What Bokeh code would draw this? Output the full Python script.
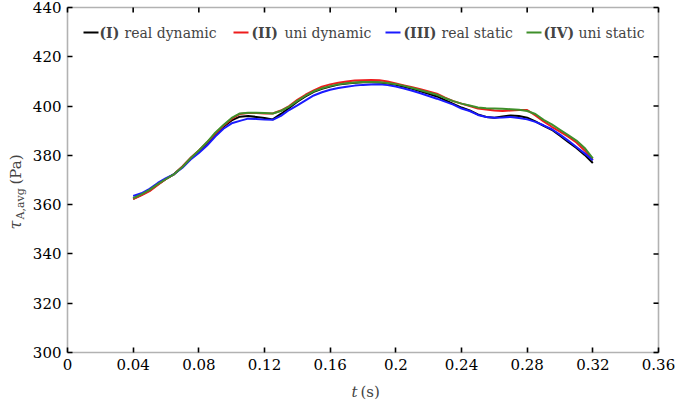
from bokeh.plotting import figure
from bokeh.models import Range1d, FixedTicker, LinearAxis, Label, BoxAnnotation
from bokeh.embed import file_html
from bokeh.resources import INLINE
import math

# time samples (s)
t = [0.040, 0.045, 0.050, 0.055, 0.060, 0.065, 0.070, 0.075, 0.080, 0.085,
     0.090, 0.095, 0.100, 0.105, 0.110, 0.115, 0.120, 0.125, 0.130, 0.135,
     0.140, 0.145, 0.150, 0.155, 0.160, 0.165, 0.170, 0.175, 0.180, 0.185,
     0.190, 0.195, 0.200, 0.205, 0.210, 0.215, 0.220, 0.225, 0.230, 0.235,
     0.240, 0.245, 0.250, 0.255, 0.260, 0.265, 0.270, 0.275, 0.280, 0.285,
     0.290, 0.295, 0.300, 0.305, 0.310, 0.315, 0.320]

# average wall shear stress (Pa) for each case
real_dynamic = [362.4, 364.0, 365.8, 368.2, 370.4, 372.4, 375.4, 378.8, 381.7, 384.8,
                388.4, 391.6, 394.2, 395.7, 396.0, 395.6, 395.2, 394.6, 396.8, 399.2,
                401.8, 403.9, 405.8, 407.0, 407.9, 408.7, 409.2, 409.5, 409.7, 409.7,
                409.6, 409.2, 408.6, 407.8, 407.0, 406.0, 405.0, 403.9, 402.4, 400.9,
                399.4, 398.2, 396.6, 395.6, 395.3, 395.8, 396.2, 396.0, 395.3, 393.8,
                392.0, 390.4, 388.0, 385.4, 383.0, 380.2, 376.9]
uni_dynamic = [362.2, 363.8, 365.5, 368.0, 370.4, 372.4, 375.5, 379.0, 382.0, 385.2,
               388.8, 392.0, 394.8, 396.8, 397.2, 397.2, 397.0, 397.0, 398.2, 400.0,
               402.5, 404.6, 406.4, 407.9, 408.8, 409.5, 410.0, 410.4, 410.5, 410.6,
               410.5, 410.0, 409.2, 408.4, 407.6, 406.8, 405.9, 405.0, 403.4, 402.0,
               401.0, 400.0, 399.0, 398.6, 398.2, 398.0, 398.2, 398.4, 398.4, 396.2,
               393.8, 391.6, 389.6, 387.6, 385.2, 382.0, 378.2]
real_static = [363.5, 364.6, 366.4, 368.8, 370.8, 372.4, 375.0, 378.3, 381.0, 384.0,
               387.6, 390.8, 393.0, 394.0, 394.9, 394.8, 394.5, 394.4, 396.0, 398.4,
               400.3, 402.3, 404.3, 405.6, 406.6, 407.3, 407.8, 408.3, 408.6, 408.8,
               408.9, 408.5, 407.9, 407.1, 406.2, 405.2, 404.1, 403.0, 401.8, 400.6,
               399.0, 398.0, 396.4, 395.6, 395.3, 395.4, 395.6, 395.2, 394.6, 393.6,
               392.2, 390.6, 388.4, 386.0, 383.4, 380.8, 378.0]
uni_static = [362.6, 364.2, 366.0, 368.3, 370.4, 372.4, 375.3, 378.8, 382.0, 385.4,
              389.2, 392.3, 395.2, 397.0, 397.3, 397.3, 397.2, 397.0, 398.0, 399.8,
              402.1, 404.2, 406.0, 407.2, 408.1, 408.8, 409.3, 409.6, 409.8, 409.8,
              409.7, 409.4, 408.9, 408.2, 407.3, 406.4, 405.5, 404.6, 403.2, 402.0,
              401.0, 400.2, 399.4, 399.1, 399.0, 398.9, 398.7, 398.5, 398.0, 396.8,
              394.4, 392.6, 390.4, 388.2, 386.0, 383.0, 378.8]

series_ids = ["(I)", "(II)", "(III)", "(IV)"]
series_names = ["real dynamic", "uni dynamic", "real static", "uni static"]
series_colors = ["#000000", "#ee1c1c", "#1a1aff", "#3f8f2a"]
series_values = [real_dynamic, uni_dynamic, real_static, uni_static]

x_ticks = [0, 0.04, 0.08, 0.12, 0.16, 0.2, 0.24, 0.28, 0.32, 0.36]
x_tick_labels = ["0", "0.04", "0.08", "0.12", "0.16", "0.2", "0.24", "0.28", "0.32", "0.36"]
y_ticks = [300, 320, 340, 360, 380, 400, 420, 440]

SERIF = "DejaVu Serif"
W, H = 676, 405
# plotting box: data limits and where they sit on the canvas (px)
X0, X1, Y0, Y1 = 0.0, 0.36, 300.0, 440.0
LEFT, TOP, BW, BH = 67, 7, 591, 345
TICK = 5  # tick length, px


def px_x(px):
    # canvas pixel column -> data x
    return X0 + (px - LEFT) * (X1 - X0) / BW


def px_y(py):
    # canvas pixel row -> data y
    return Y1 - (py - TOP) * (Y1 - Y0) / BH


# the frame spans the whole canvas; the axes box is drawn inside it
p = figure(width=W, height=H, min_border=0,
           x_range=Range1d(px_x(0), px_x(W)), y_range=Range1d(px_y(H), px_y(0)),
           x_axis_type=None, y_axis_type=None,
           output_backend="svg", toolbar_location=None,
           background_fill_color="white", border_fill_color="white")
p.grid.visible = False
p.outline_line_color = None

xaxis = LinearAxis(fixed_location=Y0)
yaxis = LinearAxis(fixed_location=X0)
p.add_layout(xaxis, "below")
p.add_layout(yaxis, "left")
for ax, ticks in ((xaxis, x_ticks), (yaxis, y_ticks)):
    ax.ticker = FixedTicker(ticks=ticks)
    ax.minor_tick_line_color = None
    ax.major_tick_in = TICK
    ax.major_tick_out = 0
    ax.major_tick_line_width = 1.6
    ax.axis_line_color = None
    ax.major_tick_line_color = "black"
    ax.major_label_text_font = SERIF
    ax.major_label_text_color = "black"
    ax.major_label_text_font_size = "15px"
    ax.major_label_standoff = 6
xaxis.major_label_overrides = {v: s for v, s in zip(x_ticks, x_tick_labels)}

# axes box
p.add_layout(BoxAnnotation(left=X0, right=X1, bottom=Y0, top=Y1, fill_alpha=0,
                           line_color="black", line_width=1.6, level="guide"))

# mirrored tick marks on the top and right edges of the box
dy = TICK * (Y1 - Y0) / BH
dx = TICK * (X1 - X0) / BW
p.segment(x0=x_ticks, x1=x_ticks, y0=[Y1] * len(x_ticks), y1=[Y1 - dy] * len(x_ticks),
          line_color="black", line_width=1.6)
p.segment(x0=[X1] * len(y_ticks), x1=[X1 - dx] * len(y_ticks), y0=y_ticks, y1=y_ticks,
          line_color="black", line_width=1.6)

for vals, col in zip(series_values, series_colors):
    p.line(t, vals, line_color=col, line_width=2)

# legend row across the top of the box
leg_y = 32
leg_lines = [(83, 98), (233, 248), (385, 400), (526, 541)]
leg_ids_x = [99, 251, 403, 543]
leg_names_x = [124, 284, 441, 578]
for (a, b), ix, nx, sid, name, col in zip(leg_lines, leg_ids_x, leg_names_x,
                                         series_ids, series_names, series_colors):
    p.add_layout(BoxAnnotation(left=px_x(a), right=px_x(b),
                               bottom=px_y(leg_y + 1), top=px_y(leg_y - 1),
                               fill_color=col, fill_alpha=1, line_alpha=0))
    p.add_layout(Label(x=px_x(ix), y=px_y(leg_y), text=sid, text_font=SERIF,
                       text_font_style="bold", text_font_size="14px",
                       text_baseline="middle", text_align="left"))
    p.add_layout(Label(x=px_x(nx), y=px_y(leg_y), text=name, text_font=SERIF,
                       text_font_size="14px", text_baseline="middle",
                       text_align="left"))

# x axis title: t (s)
p.add_layout(Label(x=px_x(357), y=px_y(391), text="t", text_font=SERIF,
                   text_font_style="italic", text_font_size="15px",
                   text_baseline="middle", text_align="right"))
p.add_layout(Label(x=px_x(360), y=px_y(391), text="(s)", text_font=SERIF,
                   text_font_size="15px", text_baseline="middle", text_align="left"))

# y axis title: tau_{A,avg} (Pa), reading upwards
p.add_layout(Label(x=px_x(15), y=px_y(229), text="τ", text_font=SERIF,
                   text_font_style="italic", text_font_size="16px",
                   text_baseline="middle", text_align="left", angle=math.pi / 2))
p.add_layout(Label(x=px_x(20), y=px_y(219), text="A,avg", text_font=SERIF,
                   text_font_size="11px", text_baseline="middle",
                   text_align="left", angle=math.pi / 2))
p.add_layout(Label(x=px_x(15), y=px_y(184), text="(Pa)", text_font=SERIF,
                   text_font_size="15px", text_baseline="middle",
                   text_align="left", angle=math.pi / 2))

open("out.html", "w").write(file_html(p, INLINE))
